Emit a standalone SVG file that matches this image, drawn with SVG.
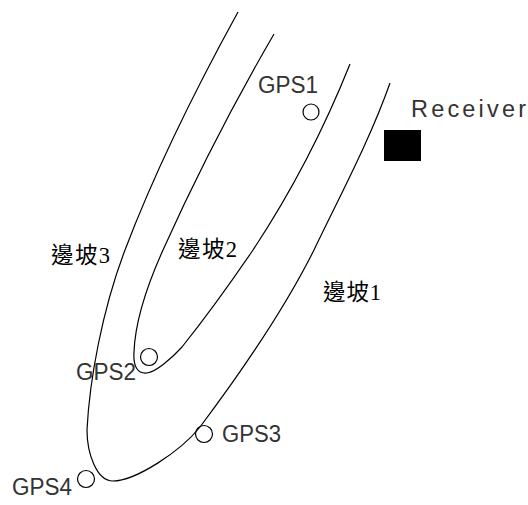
<svg xmlns="http://www.w3.org/2000/svg" width="528" height="505" viewBox="0 0 528 505">
  <style>
    .slope { fill: none; stroke: #000; stroke-width: 1.2; }
    .gps { fill: none; stroke: #000; stroke-width: 1.2; }
    .cad { font-family: "Liberation Sans", Arial, sans-serif; font-size: 23.5px; fill: #333; }
    .cjk { font-family: "Liberation Serif", "Noto Sans CJK TC", serif; font-size: 22.5px; fill: #000; }
  </style>
  <rect width="528" height="505" fill="#fff"/>
  <g id="slopes">
    <path id="outer" class="slope" d="M238,12 C194,92 155.4,170 125,250 C102.2,310 89.5,380 87,430 C87,452 96,481 113,481 C135,481 180,452 200,427 C245,367 284,310 314,250 C340.4,195 370.75,138 390,83"/>
    <path id="inner" class="slope" d="M274,34 C232.2,106 195.4,178 163,250 C145,290 135,325 134,352 C133,367 138,374 147,373 C156,372 172,358 182,347 C207.6,315 231.2,282 253,250 C294,188 325.2,126 350,64"/>
  </g>
  <g id="labels">
    <text class="cjk" x="51" y="263" textLength="59" lengthAdjust="spacing">邊坡3</text>
    <text class="cjk" x="178" y="257" textLength="59" lengthAdjust="spacing">邊坡2</text>
    <text class="cjk" x="323" y="300" textLength="58" lengthAdjust="spacing">邊坡1</text>
  </g>
  <g id="gps1">
    <circle class="gps" cx="311" cy="112" r="8"/>
    <text class="cad" x="258" y="92.5" textLength="60" lengthAdjust="spacingAndGlyphs">GPS1</text>
  </g>
  <g id="gps2">
    <circle class="gps" cx="149" cy="357" r="8.5"/>
    <text class="cad" x="76" y="380" textLength="60" lengthAdjust="spacingAndGlyphs">GPS2</text>
  </g>
  <g id="gps3">
    <circle class="gps" cx="204" cy="434" r="8.5"/>
    <text class="cad" x="222" y="442" textLength="59" lengthAdjust="spacingAndGlyphs">GPS3</text>
  </g>
  <g id="gps4">
    <circle class="gps" cx="86" cy="479" r="8.5"/>
    <text class="cad" x="12" y="495" textLength="60" lengthAdjust="spacingAndGlyphs">GPS4</text>
  </g>
  <g id="receiver">
    <rect x="384" y="130" width="37" height="31" fill="#000"/>
    <text class="cad" x="411" y="117" textLength="115" lengthAdjust="spacing">Receiver</text>
  </g>
</svg>
